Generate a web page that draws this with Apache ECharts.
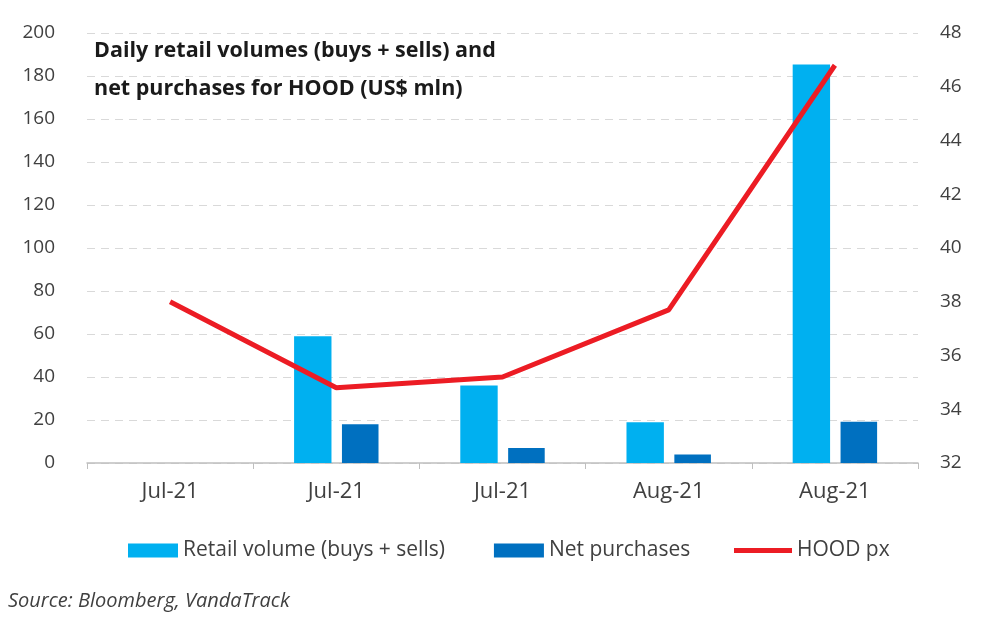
<!DOCTYPE html>
<html>
<head>
<meta charset="utf-8">
<script src="https://cdn.jsdelivr.net/npm/echarts@6/dist/echarts.min.js"></script>
<style>
html,body{margin:0;padding:0;background:#fff;}
#chart{width:1000px;height:624px;}
</style>
</head>
<body>
<div id="chart"></div>
<script>
const categories = ['Jul-21', 'Jul-21', 'Jul-21', 'Aug-21', 'Aug-21'];
const retailVolume = [null, 59, 36, 19, 185.4];
const netPurchases = [null, 18, 7, 4, 19.2];
const hoodPx = [38.0, 34.8, 35.2, 37.7, 46.8];
const leftTicks = {min: 0, max: 200, interval: 20};
const rightTicks = {min: 32, max: 48, interval: 2};

const FONT = 'Open Sans';
const TXT = '#404040';
const RED = '#ec1c24';
const chart = echarts.init(document.getElementById('chart'));
chart.setOption({
  animation: false,
  backgroundColor: '#ffffff',
  textStyle: {fontFamily: FONT},
  title: {
    text: 'Daily retail volumes (buys + sells) and\nnet purchases for HOOD (US$ mln)',
    left: 89, top: 27,
    textStyle: {fontFamily: FONT, fontSize: 21.5, fontWeight: 'bold', color: '#1a1a1a', lineHeight: 38}
  },
  graphic: [{
    type: 'text', left: 8, top: 591,
    style: {text: 'Source: Bloomberg, VandaTrack', font: 'italic 20px "Open Sans"', fill: TXT}
  }],
  legend: [{
    top: 535, left: 123,
    itemGap: 49, itemWidth: 50, itemHeight: 14,
    textStyle: {fontFamily: FONT, fontSize: 21, color: TXT},
    data: [
      {name: 'Retail volume (buys + sells)', icon: 'rect'},
      {name: 'Net purchases', icon: 'rect'}
    ]
  }, {
    top: 535, left: 729,
    itemWidth: 58, itemHeight: 5,
    textStyle: {fontFamily: FONT, fontSize: 21, color: TXT},
    data: [{name: 'HOOD px', icon: 'rect'}]
  }],
  grid: {left: 87, right: 82, top: 33, bottom: 161, containLabel: false},
  xAxis: {
    type: 'category', data: categories,
    axisLine: {lineStyle: {color: '#bfbfbf', width: 1.5}},
    axisTick: {show: true, length: 6, lineStyle: {color: '#bfbfbf'}},
    axisLabel: {fontFamily: FONT, fontSize: 22, color: TXT, margin: 18}
  },
  yAxis: [{
    type: 'value', min: leftTicks.min, max: leftTicks.max, interval: leftTicks.interval,
    axisLine: {show: false}, axisTick: {show: false},
    axisLabel: {fontFamily: FONT, fontSize: 19, color: TXT, margin: 32},
    splitLine: {show: true, lineStyle: {color: '#d9d9d9', type: [8, 6], width: 1.2}}
  }, {
    type: 'value', min: rightTicks.min, max: rightTicks.max, interval: rightTicks.interval,
    axisLine: {show: false}, axisTick: {show: false},
    axisLabel: {fontFamily: FONT, fontSize: 19, color: TXT, margin: 22},
    splitLine: {show: false}
  }],
  series: [{
    name: 'Retail volume (buys + sells)', type: 'bar', data: retailVolume,
    barWidth: '22.5%', barGap: '28%',
    itemStyle: {color: '#00b0f0'}
  }, {
    name: 'Net purchases', type: 'bar', data: netPurchases,
    barWidth: '22%',
    itemStyle: {color: '#0070c0'}
  }, {
    name: 'HOOD px', type: 'line', yAxisIndex: 1, data: hoodPx,
    symbol: 'none', lineStyle: {color: RED, width: 5}, itemStyle: {color: RED}
  }]
});
</script>
</body>
</html>
